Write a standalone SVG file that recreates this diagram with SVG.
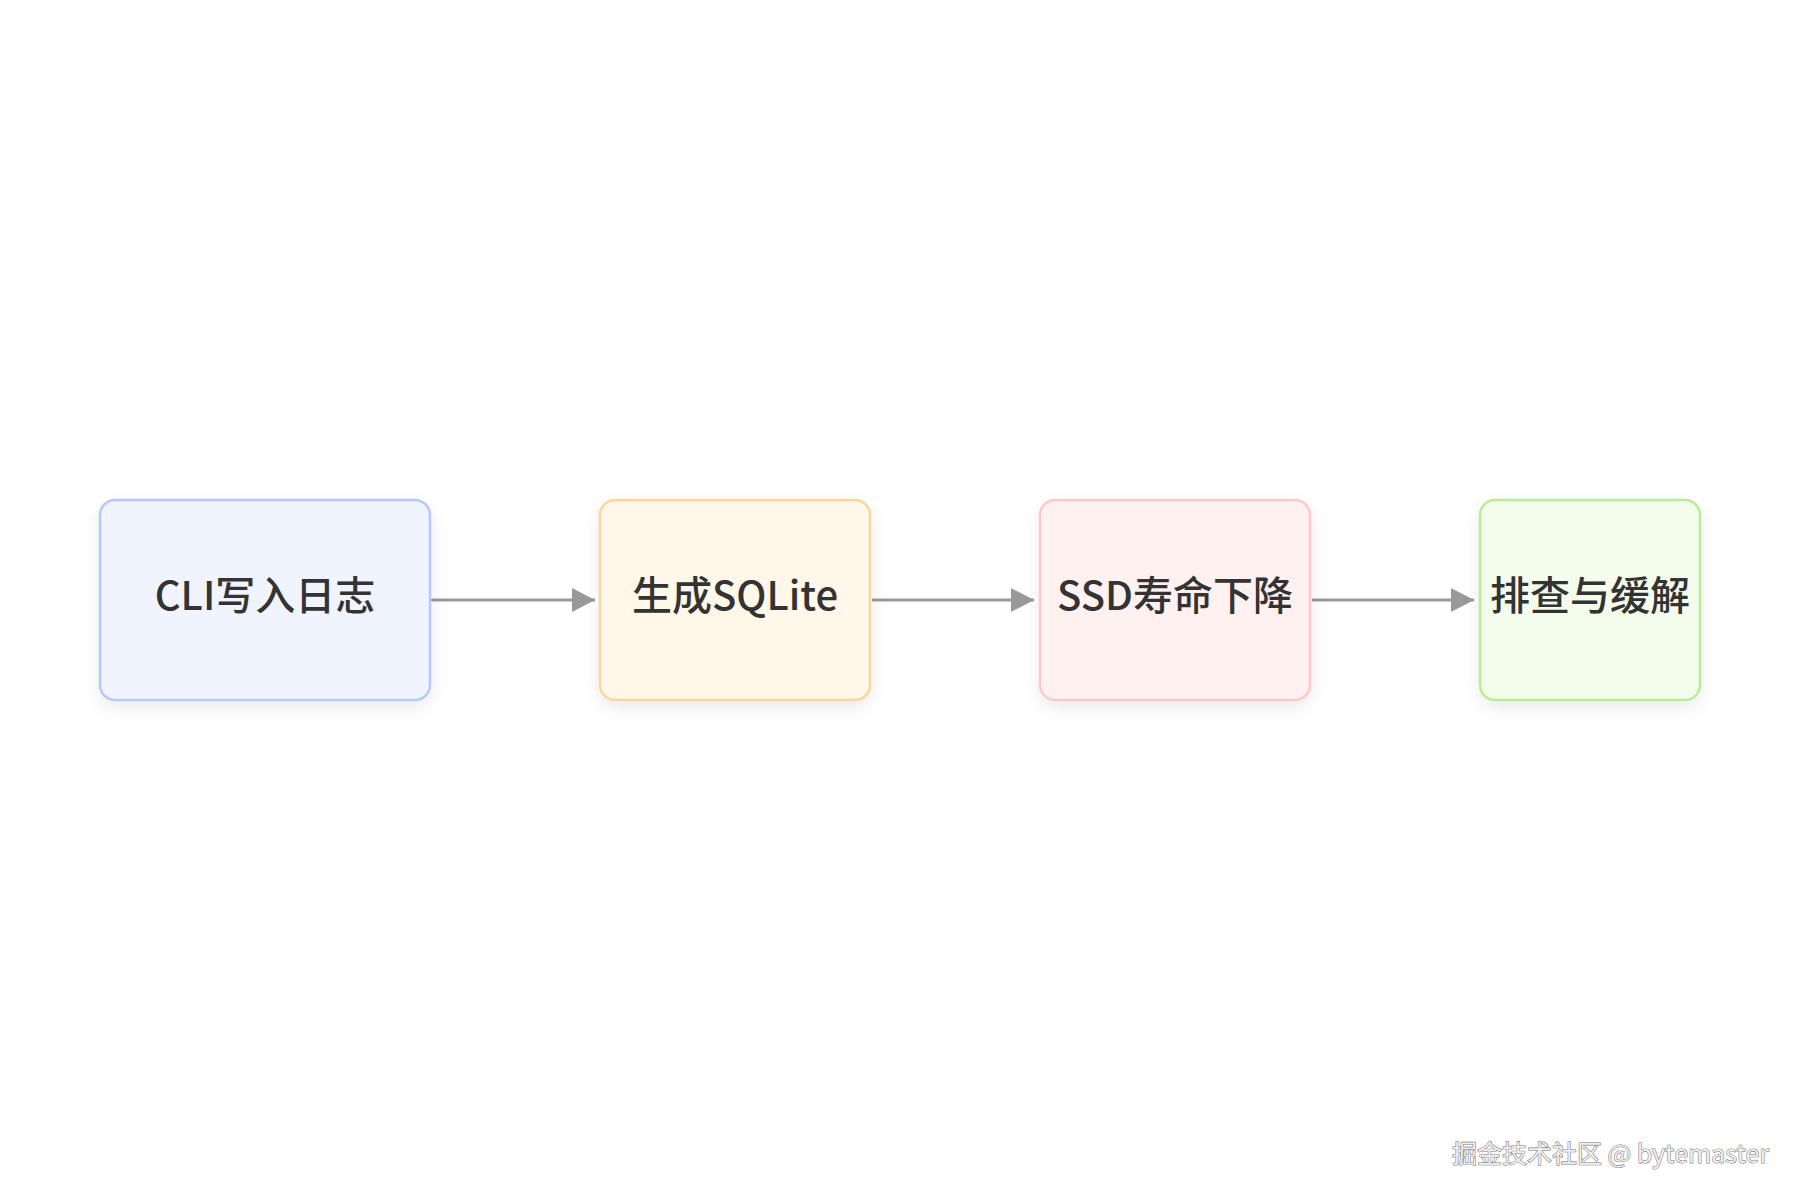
<svg xmlns="http://www.w3.org/2000/svg" width="1800" height="1200" viewBox="0 0 1800 1200">
<style>
.node rect{stroke-width:2.5}
.label{font-family:"Noto Sans CJK SC","Noto Sans",sans-serif;font-size:40px;font-weight:500;fill:#333;text-anchor:middle;dominant-baseline:central}
.edge{stroke:#999;stroke-width:3;fill:none}
.wm{font-family:"Noto Sans CJK SC","Noto Sans",sans-serif;font-size:25px;fill:#eeeeee;stroke:#7a7a7a;stroke-width:1.1;paint-order:stroke;text-anchor:end}
</style>
<defs>
<filter id="sh" x="-20%" y="-20%" width="140%" height="150%">
<feDropShadow dx="0" dy="6" stdDeviation="8" flood-color="#000" flood-opacity="0.08"/>
</filter>
<marker id="ah" markerWidth="24" markerHeight="24" refX="23" refY="12" orient="auto" markerUnits="userSpaceOnUse">
<path d="M0,0 L23,12 L0,24 Z" fill="#999"/>
</marker>
</defs>
<rect width="1800" height="1200" fill="#fff"/>
<g id="edges">
<line class="edge" x1="431" y1="600" x2="595" y2="600" marker-end="url(#ah)"/>
<line class="edge" x1="872" y1="600" x2="1034" y2="600" marker-end="url(#ah)"/>
<line class="edge" x1="1312" y1="600" x2="1474" y2="600" marker-end="url(#ah)"/>
</g>
<g id="n1" class="node">
<rect x="100" y="500" width="330" height="200" rx="15" fill="#f0f4ff" stroke="#b5c8fb" filter="url(#sh)"/>
<text class="label" x="265" y="593">CLI写入日志</text>
</g>
<g id="n2" class="node">
<rect x="600" y="500" width="270" height="200" rx="15" fill="#fff7e7" stroke="#fdd49a" filter="url(#sh)"/>
<text class="label" x="735" y="593">生成SQLite</text>
</g>
<g id="n3" class="node">
<rect x="1040" y="500" width="270" height="200" rx="15" fill="#fff1f0" stroke="#fcc9c7" filter="url(#sh)"/>
<text class="label" x="1175" y="593">SSD寿命下降</text>
</g>
<g id="n4" class="node">
<rect x="1480" y="500" width="220" height="200" rx="15" fill="#f4fdeb" stroke="#b8ec97" filter="url(#sh)"/>
<text class="label" x="1590" y="593">排查与缓解</text>
</g>
<text class="wm" x="1769" y="1163">掘金技术社区 @ bytemaster</text>
</svg>
